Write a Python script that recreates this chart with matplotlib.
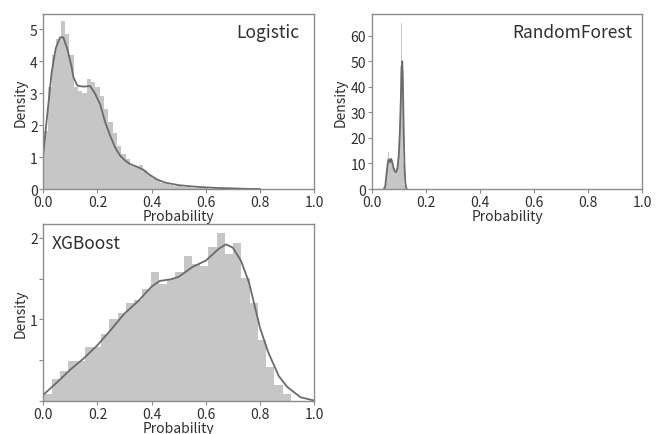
import numpy as np
import matplotlib
matplotlib.use('Agg')
import matplotlib.pyplot as plt

plt.rcParams['font.family'] = ['Noto Sans CJK JP', 'DejaVu Sans']

# ===================================================
# Histogram heights (density) and KDE curves
# ===================================================
logit_bin_start = 0.0
logit_bin_width = 0.016
logit_hist = [1.8, 3.2, 4.2, 4.7, 5.25, 4.85, 4.2, 3.2, 3.05, 3.0,
              3.45, 3.35, 3.2, 2.9, 2.5, 2.1, 1.75, 1.35, 1.1, 0.95,
              0.72, 0.7, 0.75, 0.6, 0.45, 0.33, 0.28, 0.2, 0.15, 0.12,
              0.1, 0.08, 0.07, 0.05, 0.04, 0.03, 0.03, 0.02, 0.015, 0.01,
              0.01, 0.005, 0.005]
logit_kde_x = [0.0, 0.015, 0.031, 0.046, 0.062, 0.074, 0.089, 0.105, 0.111, 0.126,
               0.148, 0.173, 0.19, 0.21, 0.228, 0.247, 0.265, 0.284, 0.302, 0.32,
               0.345, 0.37, 0.388, 0.42, 0.45, 0.5, 0.55, 0.6, 0.65, 0.7, 0.75, 0.8]
logit_kde_y = [1.1, 2.35, 3.65, 4.4, 4.74, 4.74, 4.37, 3.8, 3.5, 3.23,
               3.2, 3.22, 3.0, 2.65, 2.1, 1.67, 1.3, 1.04, 0.89, 0.78,
               0.7, 0.6, 0.47, 0.3, 0.2, 0.12, 0.08, 0.05, 0.03, 0.02, 0.005, 0.0]

rf_bin_start = 0.048
rf_bin_width = 0.002
rf_hist = [0.5, 2, 5, 8, 10, 12, 11, 14.5, 12, 11,
           11.5, 13, 12, 11, 10, 9, 8, 7.5, 7, 6.5,
           6.5, 6.5, 7, 8, 10, 13, 18, 25, 35, 48,
           56.5, 65, 40, 22, 10, 4, 1.5, 0.5]
rf_kde_x = [0.045, 0.05, 0.055, 0.06, 0.064, 0.068, 0.072, 0.076, 0.08, 0.085,
            0.09, 0.095, 0.1, 0.104, 0.108, 0.111, 0.113, 0.115, 0.118, 0.121,
            0.124, 0.127, 0.13]
rf_kde_y = [0.0, 1.0, 6.0, 10.5, 11.5, 10.5, 11.8, 10.5, 8.5, 7.0,
            6.6, 8.0, 13.0, 22.0, 36.0, 47.0, 50.0, 44.0, 25.0, 10.0,
            3.0, 0.5, 0.0]

xgb_bin_start = 0.0
xgb_bin_width = 0.0305
xgb_hist = [0.08, 0.26, 0.36, 0.48, 0.48, 0.66, 0.66, 0.82, 1.0, 1.07,
            1.2, 1.24, 1.37, 1.58, 1.43, 1.5, 1.58, 1.78, 1.68, 1.66,
            1.89, 2.06, 1.8, 1.94, 1.51, 1.2, 0.75, 0.41, 0.19, 0.08]
xgb_kde_x = [0.0, 0.05, 0.1, 0.15, 0.2, 0.25, 0.3, 0.35, 0.4, 0.43,
             0.47, 0.5, 0.55, 0.6, 0.65, 0.675, 0.7, 0.73, 0.76, 0.8,
             0.83, 0.85, 0.87, 0.9, 0.95, 1.0]
xgb_kde_y = [0.07, 0.22, 0.38, 0.52, 0.68, 0.87, 1.07, 1.22, 1.4, 1.47,
             1.49, 1.52, 1.64, 1.72, 1.87, 1.92, 1.88, 1.72, 1.45, 0.9,
             0.6, 0.45, 0.3, 0.17, 0.04, 0.0]

BAR_COLOR = '#c6c6c6'
LINE_COLOR = '#6b6b6b'
SPINE_COLOR = '#8c8c8c'
TEXT_COLOR = '#2e2e2e'


def draw_panel(ax, bin_start, bin_width, hist, kde_x, kde_y, ylim, name, name_pos, ha):
    lefts = bin_start + bin_width * np.arange(len(hist))
    ax.bar(lefts, hist, width=bin_width, align='edge', color=BAR_COLOR, linewidth=0)
    ax.plot(kde_x, kde_y, color=LINE_COLOR, linewidth=1.3)
    ax.set_xlim(0, 1.0)
    ax.set_ylim(0, ylim)
    ax.set_xticks([0.0, 0.2, 0.4, 0.6, 0.8, 1.0])
    ax.set_xticklabels(['0.0', '0.2', '0.4', '0.6', '0.8', '1.0'])
    ax.set_xlabel('Probability', fontsize=10, color=TEXT_COLOR, labelpad=0)
    ax.set_ylabel('Density', fontsize=10, color=TEXT_COLOR, labelpad=2)
    ax.tick_params(labelsize=10, colors=TEXT_COLOR, length=3, width=0.8)
    ax.tick_params(axis='x', pad=1.5)
    ax.tick_params(axis='y', pad=1)
    ax.tick_params(color=SPINE_COLOR)
    for s in ax.spines.values():
        s.set_color(SPINE_COLOR)
        s.set_linewidth(1.0)
    ax.text(name_pos[0], name_pos[1], name, transform=ax.transAxes,
            ha=ha, va='center', fontsize=12.5, color=TEXT_COLOR)


fig = plt.figure(figsize=(6.59, 4.35), dpi=100)
ax1 = fig.add_axes([0.0657, 0.5632, 0.4108, 0.4023])
ax2 = fig.add_axes([0.564, 0.5632, 0.4106, 0.4023])
ax3 = fig.add_axes([0.0657, 0.077, 0.4108, 0.4057])

draw_panel(ax1, logit_bin_start, logit_bin_width, logit_hist, logit_kde_x, logit_kde_y,
           5.47, 'Logistic', (0.945, 0.897), 'right')
ax1.set_yticks([0, 1, 2, 3, 4, 5])

draw_panel(ax2, rf_bin_start, rf_bin_width, rf_hist, rf_kde_x, rf_kde_y,
           68.5, 'RandomForest', (0.962, 0.897), 'right')
ax2.set_yticks([0, 10, 20, 30, 40, 50, 60])

draw_panel(ax3, xgb_bin_start, xgb_bin_width, xgb_hist, xgb_kde_x, xgb_kde_y,
           2.17, 'XGBoost', (0.031, 0.892), 'left')
ax3.set_yticks([0, 0.5, 1, 1.5, 2])
ax3.set_yticklabels(['', '', '1', '', '2'])

fig.savefig('out.png', dpi=100)
